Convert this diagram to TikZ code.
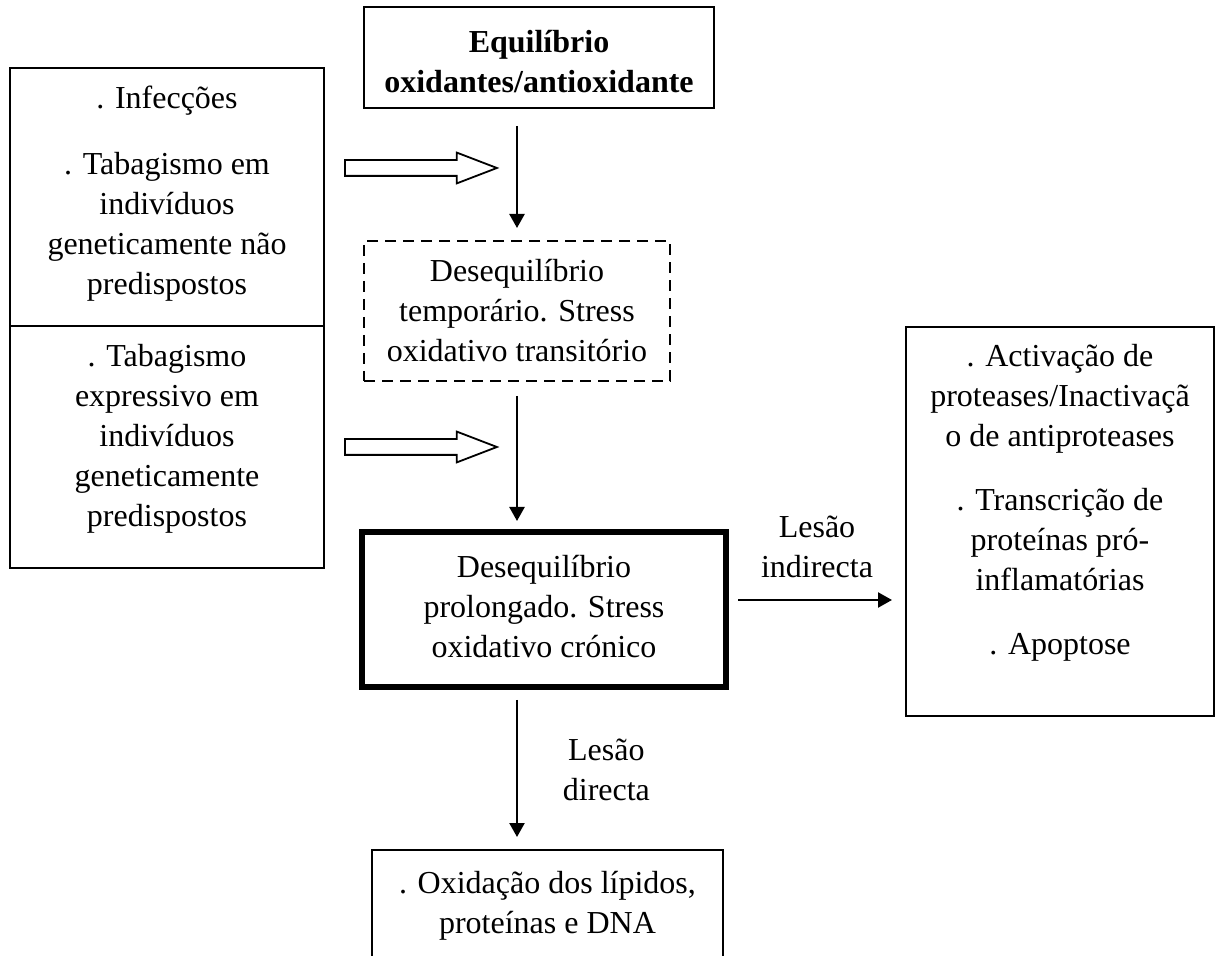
\documentclass[tikz,border=0pt]{standalone}
\usepackage{fontspec}
\setmainfont{Liberation Serif}
\usetikzlibrary{shapes.arrows,arrows.meta}
\newcommand{\itemgap}{\\[12pt]}

\begin{document}
\begin{tikzpicture}[x=0.5pt,y=-0.5pt,
  every node/.style={font=\fontsize{16}{20}\selectfont},
  box/.style={draw,line width=1pt},
  cell/.style n args={3}{inner sep=0pt,execute at begin node={\begin{minipage}[c][#2][t]{#1}\centering\rule{0pt}{#3}},execute at end node={\end{minipage}}},
  tempbox/.style={box,dash pattern=on 5.5pt off 3.5pt},
  chronic/.style={box,line width=3pt},
  hollow/.style={single arrow,draw,line width=0.9pt,inner sep=0pt,text height=7pt,text depth=0pt,minimum height=76pt,single arrow head extend=3.75pt,single arrow tip angle=42,anchor=tail},
  arr/.style={line width=1.2pt,-{Triangle[length=7pt,width=7.5pt]}}]
\useasboundingbox (0,0) rectangle (1216,956);

\node [box,cell={175pt}{50.5pt}{23pt}] (eq) at (539,57.5) {\textbf{Equilíbrio}\\\textbf{oxidantes/antioxidante}};
\node [box,cell={157pt}{129pt}{20.5pt}] (causeA) at (167,197) {. Infecções\\[13pt]. Tabagismo em\\indivíduos\\geneticamente não\\predispostos};
\node [box,cell={157pt}{121pt}{20.5pt}] (causeB) at (167,447) {. Tabagismo\\expressivo em\\indivíduos\\geneticamente\\predispostos};
\node [tempbox,cell={153pt}{70pt}{20.5pt}] (tmp) at (517,311) {Desequilíbrio\\temporário. Stress\\oxidativo transitório};
\node [chronic,cell={182pt}{77.5pt}{23pt}] (chr) at (544,609.5) {Desequilíbrio\\prolongado. Stress\\oxidativo crónico};
\node [box,cell={154pt}{194.5pt}{20pt}] (ind) at (1060,521.5) {. Activação de\\proteases/Inactivaçã\\o de antiproteases\itemgap. Transcrição de\\proteínas pró-\\inflamatórias\itemgap. Apoptose};
\node [box,cell={175.5pt}{60pt}{21.5pt}] (dmg) at (547.5,910) {. Oxidação dos lípidos,\\proteínas e DNA};

\node [hollow] (push1) at (344,168) {};
\node [hollow] (push2) at (344,447) {};

\draw [arr,shorten <=8.5pt,shorten >=6pt] (eq.south -| tmp.north) -- (tmp.north);
\draw [arr,shorten <=7pt,shorten >=4pt] (tmp.south) -- (tmp.south |- chr.north);
\draw [arr,shorten <=5pt,shorten >=6pt] (chr.south -| tmp.south) -- (tmp.south |- dmg.north) node [midway,right=19pt,align=center] {Lesão\\directa};
\draw [arr,shorten <=4.5pt,shorten >=6.5pt] ([yshift=4.75pt]chr.east) -- ([yshift=4.75pt]chr.east -| ind.west) node [midway,above=7pt,align=center] {Lesão\\indirecta};
\end{tikzpicture}
\end{document}
